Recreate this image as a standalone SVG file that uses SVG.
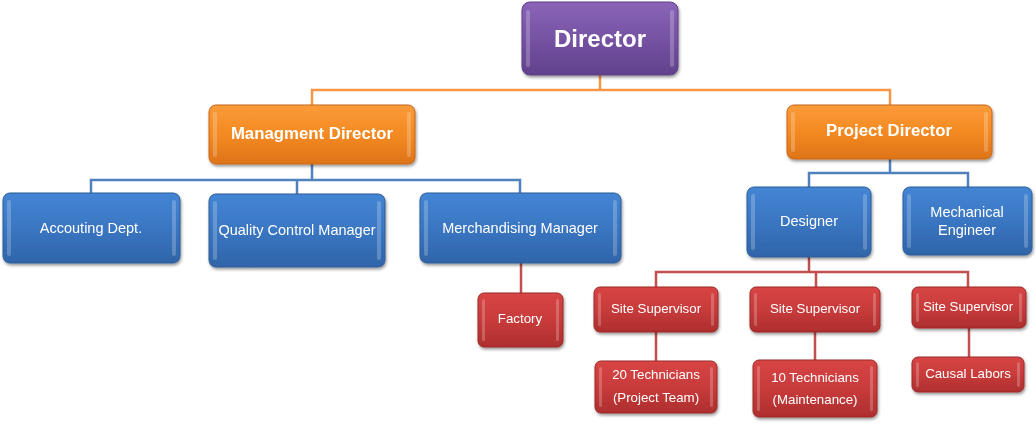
<svg xmlns="http://www.w3.org/2000/svg" width="1036" height="425" viewBox="0 0 1036 425">
<style>
.c{fill:none;stroke-width:2.5}
.co{stroke:#f79646}.cb{stroke:#4f81bd}.cr{stroke:#c0504d}
.box{filter:url(#sh)}
.p{fill:url(#gp);stroke:#5f3f85;stroke-width:1}
.o{fill:url(#go);stroke:#c8661a;stroke-width:1}
.b{fill:url(#gb);stroke:#2c5d98;stroke-width:1}
.r{fill:url(#gr);stroke:#9a2a28;stroke-width:1}
.hl{fill:#ffffff;opacity:0.22}
.t{font-family:"Liberation Sans",Arial,sans-serif;fill:#ffffff;text-anchor:middle}
.tb{font-weight:bold}
.fb{font-size:14.5px}
.fr{font-size:13.3px}
.fo{font-size:16.8px}
</style>
<defs>
<linearGradient id="gp" x1="0" y1="0" x2="0" y2="1"><stop offset="0" stop-color="#8a64b8"/><stop offset="0.5" stop-color="#7652a3"/><stop offset="1" stop-color="#62418c"/></linearGradient>
<linearGradient id="go" x1="0" y1="0" x2="0" y2="1"><stop offset="0" stop-color="#fb9b3a"/><stop offset="0.5" stop-color="#f38a22"/><stop offset="1" stop-color="#de7418"/></linearGradient>
<linearGradient id="gb" x1="0" y1="0" x2="0" y2="1"><stop offset="0" stop-color="#4485d4"/><stop offset="0.5" stop-color="#3a76c2"/><stop offset="1" stop-color="#2f64a8"/></linearGradient>
<linearGradient id="gr" x1="0" y1="0" x2="0" y2="1"><stop offset="0" stop-color="#d84545"/><stop offset="0.5" stop-color="#c83b3b"/><stop offset="1" stop-color="#ae2e2e"/></linearGradient>
<filter id="sh" x="-10%" y="-10%" width="120%" height="130%"><feDropShadow dx="1" dy="2" stdDeviation="1.5" flood-color="#000" flood-opacity="0.4"/></filter>
</defs>

<g id="connectors">
<path class="c co" d="M600 75V90M312 105V90H890V105"/>
<path class="c cb" d="M312 164V180M91 193V180H520V193M297 180V194"/>
<path class="c cb" d="M890 159V173M809 187V173H968V187"/>
<path class="c cr" d="M521 263V293"/>
<path class="c cr" d="M809 257V272M656 287V272H968V287M816 272V287"/>
<path class="c cr" d="M656 332V361M815 332V360M969 328V357"/>
</g>

<g id="director" class="box">
<rect class="p" x="522" y="2" width="156" height="73" rx="8"/>
<rect class="hl" x="526" y="10" width="4" height="57" rx="2"/><rect class="hl" x="670" y="10" width="4" height="57" rx="2"/>
<text class="t tb" x="600" y="47" font-size="24">Director</text>
</g>

<g id="mgmt-director" class="box">
<rect class="o" x="209" y="105" width="206" height="59" rx="7"/>
<rect class="hl" x="213" y="112" width="4" height="45" rx="2"/><rect class="hl" x="407" y="112" width="4" height="45" rx="2"/>
<text class="t tb fo" x="312" y="139">Managment Director</text>
</g>

<g id="project-director" class="box">
<rect class="o" x="787" y="105" width="205" height="54" rx="7"/>
<rect class="hl" x="791" y="112" width="4" height="40" rx="2"/><rect class="hl" x="984" y="112" width="4" height="40" rx="2"/>
<text class="t tb fo" x="889" y="136">Project Director</text>
</g>

<g id="accounting" class="box">
<rect class="b" x="3" y="193" width="177" height="70" rx="7"/>
<rect class="hl" x="7" y="200" width="4" height="56" rx="2"/><rect class="hl" x="172" y="200" width="4" height="56" rx="2"/>
<text class="t fb" x="91" y="233">Accouting Dept.</text>
</g>

<g id="quality" class="box">
<rect class="b" x="209" y="194" width="176" height="73" rx="7"/>
<rect class="hl" x="213" y="201" width="4" height="59" rx="2"/><rect class="hl" x="377" y="201" width="4" height="59" rx="2"/>
<text class="t fb" x="297" y="235">Quality Control  Manager</text>
</g>

<g id="merchandising" class="box">
<rect class="b" x="420" y="193" width="201" height="70" rx="7"/>
<rect class="hl" x="424" y="200" width="4" height="56" rx="2"/><rect class="hl" x="613" y="200" width="4" height="56" rx="2"/>
<text class="t fb" x="520" y="233">Merchandising Manager</text>
</g>

<g id="designer" class="box">
<rect class="b" x="747" y="187" width="124" height="70" rx="7"/>
<rect class="hl" x="751" y="194" width="4" height="56" rx="2"/><rect class="hl" x="863" y="194" width="4" height="56" rx="2"/>
<text class="t fb" x="809" y="226">Designer</text>
</g>

<g id="mech-engineer" class="box">
<rect class="b" x="903" y="187" width="129" height="68" rx="7"/>
<rect class="hl" x="907" y="194" width="4" height="54" rx="2"/><rect class="hl" x="1024" y="194" width="4" height="54" rx="2"/>
<text class="t fb" x="967" y="217">Mechanical</text>
<text class="t fb" x="967" y="235">Engineer</text>
</g>

<g id="factory" class="box">
<rect class="r" x="478" y="293" width="85" height="54" rx="6"/>
<rect class="hl" x="482" y="299" width="3" height="42" rx="1.5"/><rect class="hl" x="556" y="299" width="3" height="42" rx="1.5"/>
<text class="t fr" x="520" y="323">Factory</text>
</g>

<g id="site-supervisor-1" class="box">
<rect class="r" x="594" y="287" width="124" height="45" rx="6"/>
<rect class="hl" x="598" y="293" width="3" height="33" rx="1.5"/><rect class="hl" x="711" y="293" width="3" height="33" rx="1.5"/>
<text class="t fr" x="656" y="313">Site Supervisor</text>
</g>

<g id="site-supervisor-2" class="box">
<rect class="r" x="750" y="287" width="130" height="45" rx="6"/>
<rect class="hl" x="754" y="293" width="3" height="33" rx="1.5"/><rect class="hl" x="873" y="293" width="3" height="33" rx="1.5"/>
<text class="t fr" x="815" y="313">Site Supervisor</text>
</g>

<g id="site-supervisor-3" class="box">
<rect class="r" x="912" y="287" width="114" height="41" rx="6"/>
<rect class="hl" x="916" y="293" width="3" height="29" rx="1.5"/><rect class="hl" x="1019" y="293" width="3" height="29" rx="1.5"/>
<text class="t fr" x="968" y="311">Site Supervisor</text>
</g>

<g id="technicians-20" class="box">
<rect class="r" x="595" y="361" width="122" height="52" rx="6"/>
<rect class="hl" x="599" y="367" width="3" height="40" rx="1.5"/><rect class="hl" x="710" y="367" width="3" height="40" rx="1.5"/>
<text class="t fr" x="656" y="379">20 Technicians</text>
<text class="t fr" x="656" y="402">(Project Team)</text>
</g>

<g id="technicians-10" class="box">
<rect class="r" x="753" y="360" width="124" height="57" rx="6"/>
<rect class="hl" x="757" y="366" width="3" height="45" rx="1.5"/><rect class="hl" x="870" y="366" width="3" height="45" rx="1.5"/>
<text class="t fr" x="815" y="382">10 Technicians</text>
<text class="t fr" x="815" y="404">(Maintenance)</text>
</g>

<g id="causal-labors" class="box">
<rect class="r" x="912" y="357" width="112" height="35" rx="6"/>
<rect class="hl" x="916" y="362" width="3" height="25" rx="1.5"/><rect class="hl" x="1017" y="362" width="3" height="25" rx="1.5"/>
<text class="t fr" x="968" y="378">Causal Labors</text>
</g>
</svg>
